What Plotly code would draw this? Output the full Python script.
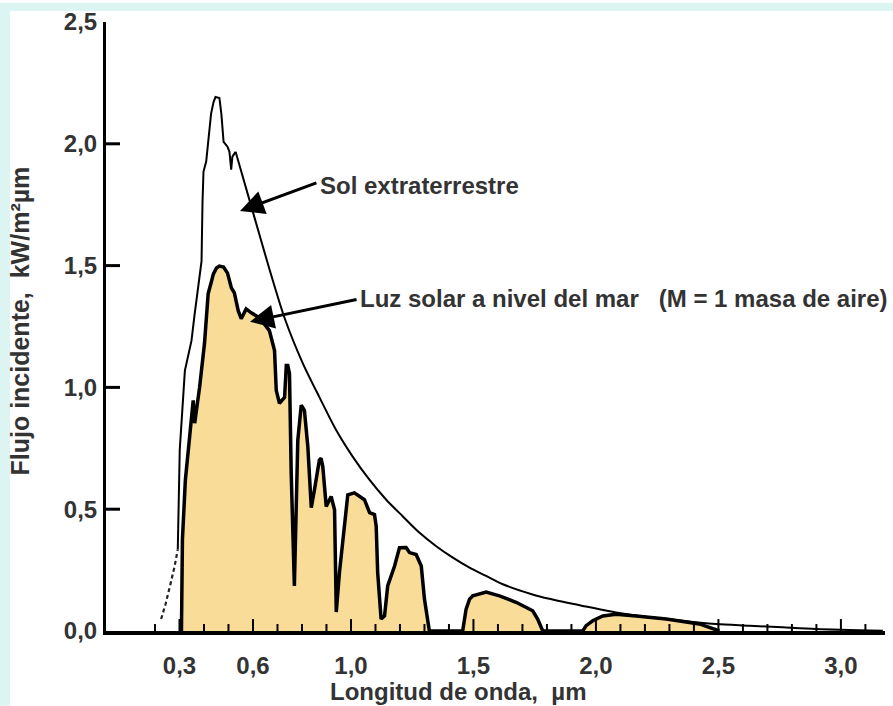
import plotly.graph_objects as go

# ---- data ----
# wavelength (µm) / flux (kW/m²µm)
ext_dash_x = [0.225, 0.243, 0.263, 0.280, 0.293]
ext_dash_y = [0.049, 0.110, 0.192, 0.265, 0.335]

ext_x = [0.293, 0.301, 0.322, 0.349, 0.361, 0.369, 0.378, 0.390, 0.394, 0.398,
         0.409, 0.429, 0.439, 0.447, 0.463, 0.471, 0.480, 0.496, 0.504, 0.511,
         0.516, 0.529, 0.606, 0.667, 0.729, 0.803, 0.871, 0.940, 1.007, 1.076,
         1.144, 1.211, 1.280, 1.348, 1.416, 1.484, 1.552, 1.620, 1.741, 1.810,
         1.946, 2.082, 2.218, 2.354, 2.491, 2.627, 2.762, 2.899, 3.171]
ext_y = [0.335, 0.743, 1.069, 1.192, 1.294, 1.355, 1.437, 1.518, 1.763, 1.886,
         1.927, 2.124, 2.171, 2.192, 2.188, 2.122, 2.008, 1.988, 1.967, 1.894,
         1.947, 1.967, 1.698, 1.486, 1.285, 1.100, 0.960, 0.824, 0.716, 0.620,
         0.539, 0.471, 0.403, 0.348, 0.301, 0.260, 0.226, 0.192, 0.150, 0.132,
         0.103, 0.076, 0.056, 0.042, 0.029, 0.022, 0.015, 0.008, 0.001]

sea_x = [0.308, 0.312, 0.324, 0.337, 0.349, 0.356, 0.362, 0.369, 0.382, 0.402,
         0.417, 0.431, 0.438, 0.451, 0.463, 0.480, 0.496, 0.512, 0.524, 0.540,
         0.552, 0.572, 0.593, 0.627, 0.667, 0.688, 0.695, 0.708, 0.729, 0.736,
         0.742, 0.749, 0.756, 0.769, 0.783, 0.797, 0.810, 0.824, 0.838, 0.851,
         0.871, 0.878, 0.885, 0.899, 0.919, 0.933, 0.940, 0.953, 0.973, 0.987,
         1.014, 1.055, 1.076, 1.096, 1.103, 1.109, 1.123, 1.137, 1.150, 1.178,
         1.198, 1.225, 1.239, 1.266, 1.287, 1.300, 1.320,
         1.456, 1.470, 1.484, 1.497, 1.538, 1.552, 1.606, 1.674, 1.742, 1.762, 1.783,
         1.946, 1.960, 1.987, 2.028, 2.082, 2.164, 2.287, 2.422, 2.477, 2.504]
sea_y = [0.000, 0.376, 0.620, 0.763, 0.886, 0.947, 0.853, 0.906, 1.000, 1.180,
         1.384, 1.437, 1.465, 1.490, 1.498, 1.494, 1.469, 1.408, 1.388, 1.314,
         1.282, 1.322, 1.306, 1.286, 1.233, 1.151, 0.988, 0.935, 0.959, 1.090,
         1.090, 1.057, 0.649, 0.185, 0.784, 0.927, 0.906, 0.756, 0.506, 0.580,
         0.702, 0.709, 0.675, 0.511, 0.552, 0.498, 0.078, 0.241, 0.445, 0.559,
         0.567, 0.539, 0.486, 0.478, 0.430, 0.241, 0.049, 0.062, 0.185, 0.267,
         0.342, 0.343, 0.322, 0.314, 0.267, 0.131, 0.000,
         0.000, 0.090, 0.131, 0.144, 0.158, 0.160, 0.144, 0.118, 0.083, 0.049, 0.000,
         0.000, 0.022, 0.042, 0.062, 0.069, 0.062, 0.049, 0.029, 0.008, 0.000]

x_tick_vals = [0.3, 0.6, 1.0, 1.5, 2.0, 2.5, 3.0]
x_tick_text = ["0,3", "0,6", "1,0", "1,5", "2,0", "2,5", "3,0"]
x_minor_vals = [round(0.2 + 0.1 * i, 1) for i in range(30)]
y_tick_vals = [0.0, 0.5, 1.0, 1.5, 2.0, 2.5]
y_tick_text = ["0,0", "0,5", "1,0", "1,5", "2,0", "2,5"]

label_ext = "Sol extraterrestre"
label_sea = "Luz solar a nivel del mar\u00a0\u00a0\u00a0(M = 1 masa de aire)"
x_title = "Longitud de onda,\u00a0\u00a0µm"
y_title = "Flujo incidente,\u00a0\u00a0kW/m²µm"

TXT = "#333333"
FONT = "Liberation Sans, Arial, sans-serif"
FILL = "#f8dc98"
CYAN = "#ddf5f2"
FS = 24
X_RANGE = [0, 3.18]
Y_RANGE = [0, 2.5]

fig = go.Figure()
fig.add_trace(go.Scatter(x=sea_x, y=sea_y, mode="lines", fill="tozeroy",
                         fillcolor=FILL, line=dict(color="black", width=3.5),
                         hoverinfo="skip", showlegend=False))
k = ext_x.index(0.529)
fig.add_trace(go.Scatter(x=ext_x[:k + 1], y=ext_y[:k + 1], mode="lines",
                         line=dict(color="black", width=2),
                         hoverinfo="skip", showlegend=False))
fig.add_trace(go.Scatter(x=ext_x[k:], y=ext_y[k:], mode="lines",
                         line=dict(color="black", width=2, shape="spline", smoothing=0.8),
                         hoverinfo="skip", showlegend=False))
fig.add_trace(go.Scatter(x=ext_dash_x, y=ext_dash_y, mode="lines",
                         line=dict(color="#222222", width=2.2, dash="4px,3px"),
                         hoverinfo="skip", showlegend=False))

W, H = 893, 706
L, R, T, B = 106, 8, 19, 75
pw, ph = W - L - R, H - T - B
ux = (X_RANGE[1] - X_RANGE[0]) / pw   # data units per pixel (x)
uy = (Y_RANGE[1] - Y_RANGE[0]) / ph   # data units per pixel (y)


def px(xp):
    return (xp - L) / pw


def py(yp):
    return (H - B - yp) / ph


tickfont = dict(family=FONT, size=FS, color=TXT, weight="bold")

shapes = [
    dict(type="rect", xref="paper", yref="paper", x0=px(0), x1=px(10),
         y0=py(H), y1=py(0), fillcolor=CYAN, line=dict(width=0), layer="below"),
    dict(type="rect", xref="paper", yref="paper", x0=px(0), x1=px(W),
         y0=py(8), y1=py(0), fillcolor=CYAN, line=dict(width=0), layer="below"),
]
# inward tick marks drawn at the axis tick values
for v in x_minor_vals:
    tl = 12 if v in x_tick_vals else 7
    shapes.append(dict(type="line", xref="x", yref="y", x0=v, x1=v,
                       y0=0, y1=tl * uy,
                       line=dict(color="black", width=2), layer="above"))
for v in y_tick_vals[1:-1]:
    shapes.append(dict(type="line", xref="x", yref="y", x0=0, x1=14 * ux,
                       y0=v, y1=v,
                       line=dict(color="black", width=3), layer="above"))

fig.update_layout(
    width=W, height=H,
    margin=dict(l=L, r=R, t=T, b=B, pad=0),
    paper_bgcolor="white", plot_bgcolor="white",
    font=dict(family=FONT, color=TXT, size=FS),
    xaxis=dict(range=X_RANGE, showgrid=False, zeroline=False,
               showline=True, linecolor="black", linewidth=4,
               tickmode="array", tickvals=x_tick_vals, ticktext=x_tick_text,
               ticks="", ticklabelstandoff=10, tickfont=tickfont),
    yaxis=dict(range=Y_RANGE, showgrid=False, zeroline=False,
               showline=True, linecolor="black", linewidth=3,
               tickmode="array", tickvals=y_tick_vals, ticktext=y_tick_text,
               ticks="", ticklabelstandoff=1, tickfont=tickfont),
    # companion axis on the same scale whose outward ticks point into the plot
    yaxis2=dict(range=Y_RANGE, overlaying="y", side="right", anchor="free",
                position=0, showgrid=False, zeroline=False, showline=False,
                tickmode="array", tickvals=y_tick_vals[1:-1],
                ticks="outside", ticklen=14, tickwidth=3, tickcolor="black",
                showticklabels=False),
    shapes=shapes,
)

# arrows
fig.add_annotation(x=0.547, y=1.724, ax=0.865, ay=1.842, xref="x", yref="y",
                   axref="x", ayref="y", text="", showarrow=True,
                   arrowhead=2, arrowsize=1.6, arrowwidth=3, arrowcolor="black")
fig.add_annotation(x=0.588, y=1.270, ax=1.029, ay=1.362, xref="x", yref="y",
                   axref="x", ayref="y", text="", showarrow=True,
                   arrowhead=2, arrowsize=1.6, arrowwidth=3, arrowcolor="black")
# labels
fig.add_annotation(x=0.865, y=1.830, xref="x", yref="y", text=label_ext,
                   showarrow=False, xanchor="left", yanchor="middle", font=tickfont)
fig.add_annotation(x=1.029, y=1.364, xref="x", yref="y", text=label_sea,
                   showarrow=False, xanchor="left", yanchor="middle", font=tickfont)
# axis titles
fig.add_annotation(x=px(328), y=py(692), xref="paper", yref="paper", text=x_title,
                   showarrow=False, xanchor="left", yanchor="middle", font=tickfont)
fig.add_annotation(x=px(20), y=py(320), xref="paper", yref="paper", text=y_title,
                   showarrow=False, xanchor="center", yanchor="middle", textangle=-90,
                   font=dict(family=FONT, size=25, color=TXT, weight="bold"))

fig.write_html("out.html", config={"displayModeBar": False},
               post_script="document.body.style.margin='0px';")
